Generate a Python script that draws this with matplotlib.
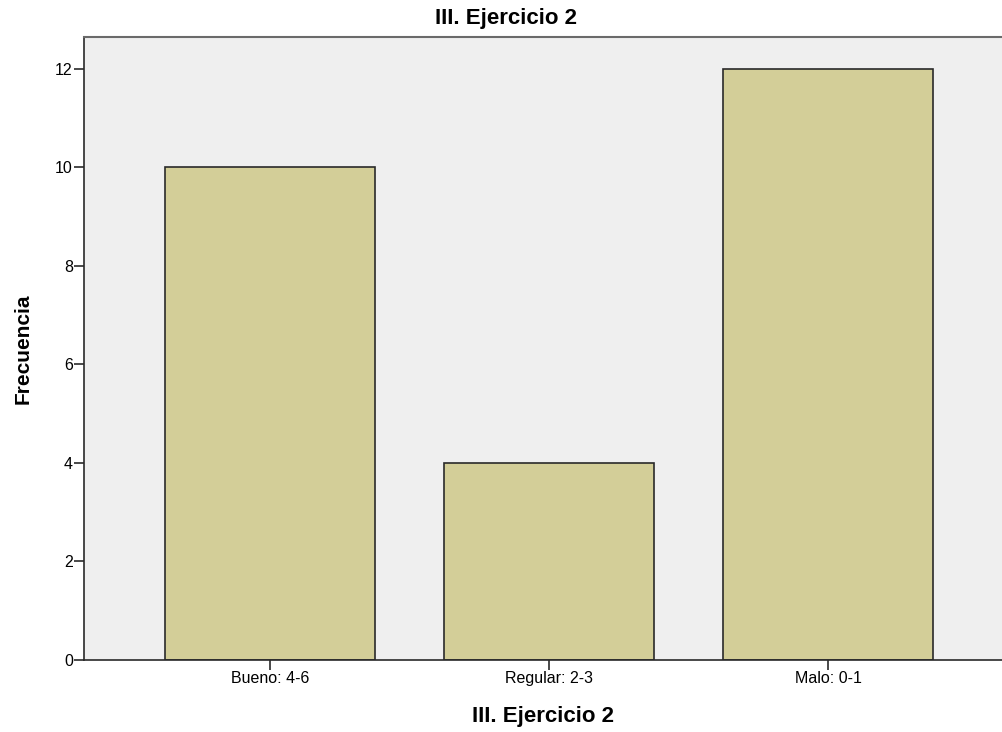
import numpy as np
import matplotlib.pyplot as plt

plt.rcParams['font.family'] = ['Liberation Sans', 'DejaVu Sans']

categorias = ['Bueno: 4-6', 'Regular: 2-3', 'Malo: 0-1']
frecuencia = [10, 4, 12]
yticks = [0, 2, 4, 6, 8, 10, 12]

fig = plt.figure(figsize=(10.03, 7.32), dpi=100)
ax = fig.add_axes([0.0837, 0.0984, 0.9163, 0.8511])
ax.set_facecolor('#EFEFEF')

x = np.arange(len(categorias))
ax.bar(x, frecuencia, width=0.75, color='#D3CE98', edgecolor='#2a2a2a', linewidth=1.2)

ax.set_xlim(-0.667, 2.627)
ax.set_ylim(0, 12.65)
ax.set_xticks(x)
ax.set_xticklabels(categorias, fontsize=11.5)
ax.set_yticks(yticks)
ax.set_yticklabels([str(v) for v in yticks], fontsize=11.5)
ax.tick_params(axis='both', direction='out', length=7, width=1.2, color='#2a2a2a', pad=1)

for side in ['left', 'bottom']:
    ax.spines[side].set_color('#2a2a2a')
    ax.spines[side].set_linewidth(1.2)
ax.spines['top'].set_color('#6a6a6a')
ax.spines['top'].set_linewidth(1.5)
ax.spines['right'].set_visible(False)

ax.set_ylabel('Frecuencia', fontsize=15, fontweight='bold', labelpad=16)
ax.set_xlabel('III. Ejercicio 2', fontsize=16, fontweight='bold', labelpad=14)
fig.text(0.504, 0.975, 'III. Ejercicio 2', fontsize=16, fontweight='bold', ha='center', va='center')

fig.savefig('out.png', dpi=100)
